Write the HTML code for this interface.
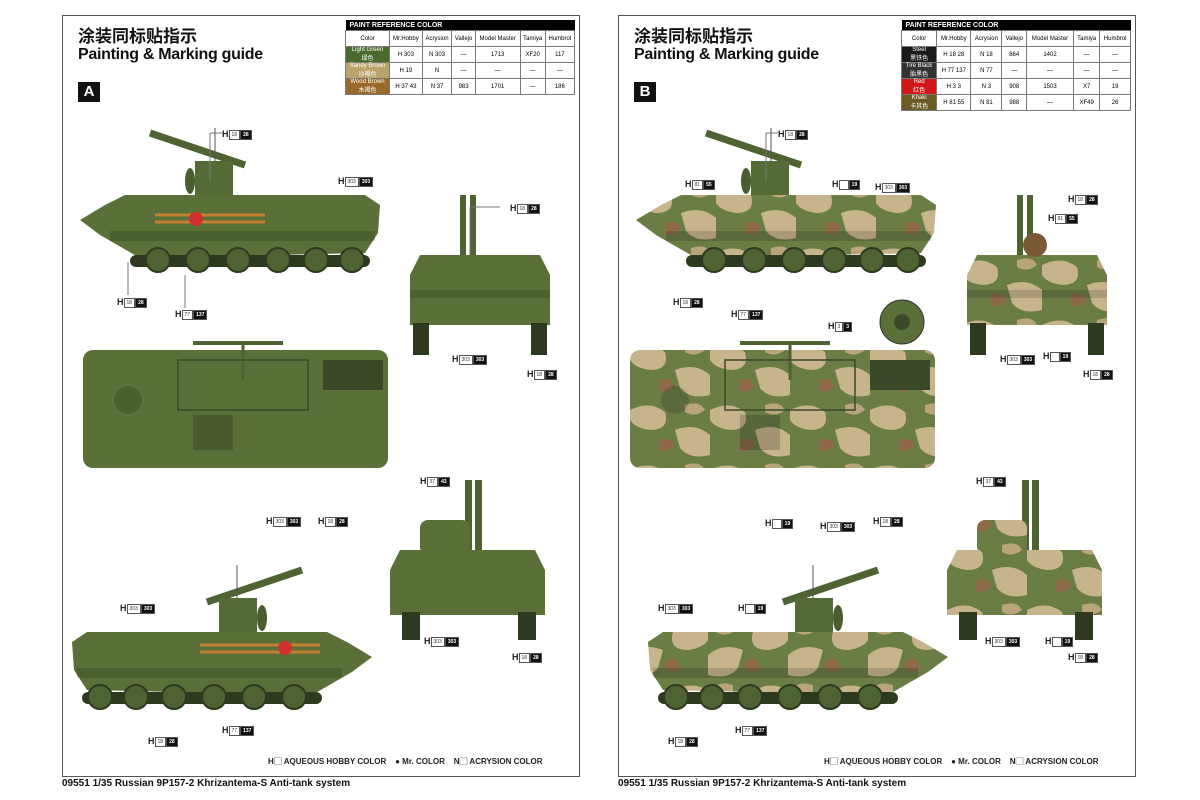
<!DOCTYPE html>
<html><head><meta charset="utf-8"><style>
body{margin:0;width:1200px;height:800px;background:#fff;position:relative;overflow:hidden;font-family:"Liberation Sans","Noto Sans CJK SC",sans-serif;}
.p{position:absolute;top:15px;width:516px;height:760px;border:1px solid #555;background:#fff;}
.t1{position:absolute;font-size:17px;font-weight:bold;color:#111;}
.t2{position:absolute;font-size:16px;font-weight:bold;color:#111;letter-spacing:-0.3px;}
.lt{position:absolute;width:22px;height:20px;background:#111;color:#fff;font-weight:bold;font-size:15px;text-align:center;line-height:20px;}
table{position:absolute;border-collapse:collapse;font-size:6px;}
td{border:1px solid #777;text-align:center;height:15px;padding:0 1px;}
.hd{background:#000;color:#fff;font-weight:bold;font-size:7px;text-align:left;padding-left:4px;height:10px;border:none;}
.c{position:absolute;font-size:9px;font-weight:bold;color:#222;white-space:nowrap;line-height:10px;}
.c b{display:inline-block;font-size:5px;height:8px;line-height:8px;padding:0 2px;vertical-align:1px;border:1px solid #555;}
.c .w{background:#fff;color:#333;font-weight:normal;}
.c .k{background:#111;color:#fff;}
.foot{position:absolute;top:778px;font-size:10px;font-weight:bold;color:#111;}
.leg{position:absolute;top:756px;font-size:8px;font-weight:bold;color:#222;}
svg{position:absolute;left:0;top:0;}
</style></head><body>
<div class="p" style="left:62px"></div>
<div class="p" style="left:618px"></div>

<svg width="1200" height="800">
<defs>
<pattern id="camo" width="80" height="60" patternUnits="userSpaceOnUse">
<rect width="80" height="60" fill="#6a7d45"/>
<path d="M0 10 Q20 0 35 12 Q40 30 20 30 Q5 28 0 20Z" fill="#c8b48c"/>
<path d="M45 30 Q65 22 80 35 L80 55 Q60 60 50 48Z" fill="#c8b48c"/>
<path d="M30 40 Q40 36 45 45 Q38 55 28 50Z" fill="#8c6a48"/>
<path d="M55 5 Q70 0 75 10 Q65 18 55 12Z" fill="#b9a47c"/>
</pattern>
<g id="side">
<line x1="70" y1="10" x2="165" y2="42" stroke="#4f6232" stroke-width="7"/>
<line x1="135" y1="5" x2="135" y2="55" stroke="#555" stroke-width="1"/>
<rect x="115" y="38" width="38" height="36" fill="#556b36"/>
<ellipse cx="110" cy="58" rx="5" ry="13" fill="#4a5d2f"/>
<polygon points="0,97 25,82 45,72 285,72 300,82 298,110 285,130 60,135 20,112" />
<rect x="30" y="108" width="265" height="10" fill="#000" opacity=".15"/>
<rect x="50" y="132" width="240" height="12" rx="6" fill="#2e3a20"/>
<g fill="#4e6331" stroke="#2e3a20" stroke-width="2">
<circle cx="78" cy="137" r="12"/><circle cx="118" cy="137" r="12"/><circle cx="158" cy="137" r="12"/><circle cx="198" cy="137" r="12"/><circle cx="236" cy="137" r="12"/><circle cx="272" cy="137" r="12"/></g>
</g>
<g id="rear">
<rect x="55" y="0" width="6" height="85" fill="#4f6232"/><rect x="65" y="0" width="6" height="85" fill="#4f6232"/>
<polygon points="15,60 135,60 145,80 145,130 5,130 5,80"/>
<rect x="5" y="95" width="140" height="8" fill="#000" opacity=".15"/>
<rect x="8" y="128" width="16" height="32" fill="#2e3a20"/><rect x="126" y="128" width="16" height="32" fill="#2e3a20"/>
</g>
<g id="top">
<rect x="0" y="10" width="305" height="118" rx="10"/>
<line x1="110" y1="3" x2="200" y2="3" stroke="#4f6232" stroke-width="4"/>
<line x1="160" y1="3" x2="160" y2="40" stroke="#4f6232" stroke-width="3"/>
<rect x="240" y="20" width="60" height="30" fill="#3a4a28"/>
<rect x="110" y="75" width="40" height="35" fill="#000" opacity=".18"/>
<rect x="95" y="20" width="130" height="50" fill="none" stroke="#3a4a28" stroke-width="1.5"/>
<circle cx="45" cy="60" r="14" fill="#000" opacity=".15"/>
</g>
<g id="front">
<rect x="75" y="0" width="7" height="80" fill="#4f6232"/><rect x="85" y="0" width="7" height="80" fill="#4f6232"/>
<rect x="30" y="40" width="50" height="35" rx="8"/>
<polygon points="10,70 145,70 155,90 155,135 0,135 0,90"/>
<rect x="12" y="132" width="18" height="28" fill="#2e3a20"/><rect x="128" y="132" width="18" height="28" fill="#2e3a20"/>
</g>
</defs>
<g fill="#5a7038">
<use href="#side" transform="translate(80,123)"/>
<use href="#rear" transform="translate(405,195)"/>
<use href="#top" transform="translate(83,340)"/>
<use href="#front" transform="translate(390,480)"/>
<use href="#side" transform="translate(372,560) scale(-1,1)"/>
</g>
<g stroke="#c08030" stroke-width="3"><line x1="155" y1="215" x2="265" y2="215"/><line x1="155" y1="222" x2="265" y2="222"/>
<line x1="200" y1="645" x2="320" y2="645"/><line x1="200" y1="652" x2="320" y2="652"/></g>
<circle cx="196" cy="219" r="7" fill="#d03030"/><circle cx="285" cy="648" r="7" fill="#d03030"/>
<g fill="url(#camo)">
<use href="#side" transform="translate(636,123)"/>
<use href="#rear" transform="translate(962,195)"/>
<use href="#top" transform="translate(630,340)"/>
<use href="#front" transform="translate(947,480)"/>
<use href="#side" transform="translate(948,560) scale(-1,1)"/>
</g>
<circle cx="902" cy="322" r="22" fill="#5a7038" stroke="#333"/>
<circle cx="902" cy="322" r="8" fill="#3a4a28"/>
<circle cx="1035" cy="245" r="12" fill="#7a5a35"/>
<g stroke="#777" stroke-width="1">
<line x1="210" y1="133" x2="222" y2="133"/><line x1="210" y1="133" x2="210" y2="180"/>
<line x1="128" y1="295" x2="128" y2="262"/><line x1="185" y1="308" x2="185" y2="275"/>
<line x1="500" y1="207" x2="470" y2="207"/><line x1="470" y1="207" x2="470" y2="255"/>
<line x1="766" y1="133" x2="778" y2="133"/><line x1="766" y1="133" x2="766" y2="180"/>
</g>
</svg>

<div class="t1" style="left:78px;top:22px">涂装同标贴指示</div>
<div class="t2" style="left:78px;top:46px">Painting &amp; Marking guide</div>
<div class="lt" style="left:78px;top:82px">A</div>
<div class="t1" style="left:634px;top:22px">涂装同标贴指示</div>
<div class="t2" style="left:634px;top:46px">Painting &amp; Marking guide</div>
<div class="lt" style="left:634px;top:82px">B</div>

<table style="left:345px;top:20px;width:230px">
<tr><td class="hd" colspan="7">PAINT REFERENCE COLOR</td></tr>
<tr><td>Color</td><td>Mr.Hobby</td><td>Acrysion</td><td>Vallejo</td><td>Model Master</td><td>Tamiya</td><td>Humbrol</td></tr>
<tr><td style="background:#4b6b2e;color:#fff">Light Green<br>绿色</td><td>H 303</td><td>N 303</td><td>—</td><td>1713</td><td>XF20</td><td>117</td></tr>
<tr><td style="background:#b9a46a;color:#fff">Sandy Brown<br>沙褐色</td><td>H 19</td><td>N</td><td>—</td><td>—</td><td>—</td><td>—</td></tr>
<tr><td style="background:#9a6a2a;color:#fff">Wood Brown<br>木褐色</td><td>H 37 43</td><td>N 37</td><td>983</td><td>1701</td><td>—</td><td>186</td></tr>
</table>
<table style="left:901px;top:20px;width:230px">
<tr><td class="hd" colspan="7">PAINT REFERENCE COLOR</td></tr>
<tr><td>Color</td><td>Mr.Hobby</td><td>Acrysion</td><td>Vallejo</td><td>Model Master</td><td>Tamiya</td><td>Humbrol</td></tr>
<tr><td style="background:#1a1a1a;color:#fff">Steel<br>黑铁色</td><td>H 18 28</td><td>N 18</td><td>864</td><td>1402</td><td>—</td><td>—</td></tr>
<tr><td style="background:#333;color:#fff">Tire Black<br>胎黑色</td><td>H 77 137</td><td>N 77</td><td>—</td><td>—</td><td>—</td><td>—</td></tr>
<tr><td style="background:#d01818;color:#fff">Red<br>红色</td><td>H 3 3</td><td>N 3</td><td>908</td><td>1503</td><td>X7</td><td>19</td></tr>
<tr><td style="background:#6b5a22;color:#fff">Khaki<br>卡其色</td><td>H 81 55</td><td>N 81</td><td>988</td><td>—</td><td>XF49</td><td>26</td></tr>
</table>

<div class="c" style="left:222px;top:129px">H<b class="w">18</b><b class="k">28</b></div>
<div class="c" style="left:338px;top:176px">H<b class="w">303</b><b class="k">303</b></div>
<div class="c" style="left:117px;top:297px">H<b class="w">18</b><b class="k">28</b></div>
<div class="c" style="left:175px;top:309px">H<b class="w">77</b><b class="k">137</b></div>
<div class="c" style="left:510px;top:203px">H<b class="w">18</b><b class="k">28</b></div>
<div class="c" style="left:452px;top:354px">H<b class="w">303</b><b class="k">303</b></div>
<div class="c" style="left:527px;top:369px">H<b class="w">18</b><b class="k">28</b></div>
<div class="c" style="left:420px;top:476px">H<b class="w">37</b><b class="k">43</b></div>
<div class="c" style="left:266px;top:516px">H<b class="w">303</b><b class="k">303</b></div>
<div class="c" style="left:318px;top:516px">H<b class="w">18</b><b class="k">28</b></div>
<div class="c" style="left:120px;top:603px">H<b class="w">303</b><b class="k">303</b></div>
<div class="c" style="left:424px;top:636px">H<b class="w">303</b><b class="k">303</b></div>
<div class="c" style="left:512px;top:652px">H<b class="w">18</b><b class="k">28</b></div>
<div class="c" style="left:222px;top:725px">H<b class="w">77</b><b class="k">137</b></div>
<div class="c" style="left:148px;top:736px">H<b class="w">18</b><b class="k">28</b></div>

<div class="c" style="left:778px;top:129px">H<b class="w">18</b><b class="k">28</b></div>
<div class="c" style="left:685px;top:179px">H<b class="w">81</b><b class="k">55</b></div>
<div class="c" style="left:832px;top:179px">H<b class="w">&nbsp;&nbsp;&nbsp;</b><b class="k">19</b></div>
<div class="c" style="left:875px;top:182px">H<b class="w">303</b><b class="k">303</b></div>
<div class="c" style="left:1068px;top:194px">H<b class="w">18</b><b class="k">28</b></div>
<div class="c" style="left:1048px;top:213px">H<b class="w">81</b><b class="k">55</b></div>
<div class="c" style="left:673px;top:297px">H<b class="w">18</b><b class="k">28</b></div>
<div class="c" style="left:731px;top:309px">H<b class="w">77</b><b class="k">137</b></div>
<div class="c" style="left:828px;top:321px">H<b class="w">3</b><b class="k">3</b></div>
<div class="c" style="left:1000px;top:354px">H<b class="w">303</b><b class="k">303</b></div>
<div class="c" style="left:1043px;top:351px">H<b class="w">&nbsp;&nbsp;&nbsp;</b><b class="k">19</b></div>
<div class="c" style="left:1083px;top:369px">H<b class="w">18</b><b class="k">28</b></div>
<div class="c" style="left:976px;top:476px">H<b class="w">37</b><b class="k">43</b></div>
<div class="c" style="left:765px;top:518px">H<b class="w">&nbsp;&nbsp;&nbsp;</b><b class="k">19</b></div>
<div class="c" style="left:820px;top:521px">H<b class="w">303</b><b class="k">303</b></div>
<div class="c" style="left:873px;top:516px">H<b class="w">18</b><b class="k">28</b></div>
<div class="c" style="left:658px;top:603px">H<b class="w">303</b><b class="k">303</b></div>
<div class="c" style="left:738px;top:603px">H<b class="w">&nbsp;&nbsp;&nbsp;</b><b class="k">19</b></div>
<div class="c" style="left:985px;top:636px">H<b class="w">303</b><b class="k">303</b></div>
<div class="c" style="left:1045px;top:636px">H<b class="w">&nbsp;&nbsp;&nbsp;</b><b class="k">19</b></div>
<div class="c" style="left:1068px;top:652px">H<b class="w">18</b><b class="k">28</b></div>
<div class="c" style="left:735px;top:725px">H<b class="w">77</b><b class="k">137</b></div>
<div class="c" style="left:668px;top:736px">H<b class="w">18</b><b class="k">28</b></div>

<div class="leg" style="left:268px">H▢ AQUEOUS HOBBY COLOR&nbsp;&nbsp;&nbsp;&nbsp;● Mr. COLOR&nbsp;&nbsp;&nbsp;&nbsp;N▢ ACRYSION COLOR</div>
<div class="leg" style="left:824px">H▢ AQUEOUS HOBBY COLOR&nbsp;&nbsp;&nbsp;&nbsp;● Mr. COLOR&nbsp;&nbsp;&nbsp;&nbsp;N▢ ACRYSION COLOR</div>
<div class="foot" style="left:62px">09551 1/35 Russian 9P157-2 Khrizantema-S Anti-tank system</div>
<div class="foot" style="left:618px">09551 1/35 Russian 9P157-2 Khrizantema-S Anti-tank system</div>
</body></html>
